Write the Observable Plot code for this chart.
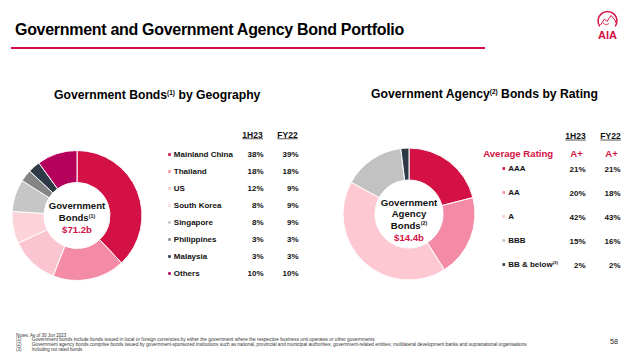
<!DOCTYPE html>
<html>
<head>
<meta charset="utf-8">
<script src="https://cdn.jsdelivr.net/npm/d3@7"></script>
<script src="https://cdn.jsdelivr.net/npm/@observablehq/plot@0.6"></script>
<style>
  body { margin: 0; background: #fff; }
  #page { position: relative; width: 640px; height: 359px; overflow: hidden;
          font-family: "Liberation Sans", Arial, sans-serif; color: #111; background: #fff; }
  .title { position: absolute; left: 15px; top: 21.5px; font-size: 16px; font-weight: bold;
           line-height: 16px; letter-spacing: -0.3px; white-space: nowrap; color: #000; }
  .rule { position: absolute; left: 11px; top: 47px; width: 474px; height: 2px; background: #d31145; }
  .heading { position: absolute; font-size: 12.2px; font-weight: bold; line-height: 12px; white-space: nowrap; color: #000; }
  .heading sup { font-size: 6.5px; vertical-align: 4px; line-height: 0; }
  .panel { position: absolute; top: 110px; }
  svg { display: block; }
</style>
</head>
<body>
<div id="page">
  <div class="title">Government and Government Agency Bond Portfolio</div>
  <div class="rule"></div>
  <svg style="position:absolute;left:594px;top:6px" width="30" height="36" viewBox="0 0 30 36">
    <path d="M5.7,20.4 A9.5,9.5 0 1,1 21.3,20.4" fill="none" stroke="#d31145" stroke-width="1.5"/>
    <path d="M6.5,19 L10.5,13 L13,15.5 L17,9.5 L21,14 L22,17" fill="none" stroke="#d31145" stroke-width="1"/>
    <path d="M9,17 L12,19 L15,17.5" fill="none" stroke="#d31145" stroke-width="0.8"/>
    <text x="13.5" y="32.5" text-anchor="middle" font-weight="bold" font-size="11" fill="#d31145"
          font-family="Liberation Sans, Arial, sans-serif">AIA</text>
  </svg>
  <div class="heading" style="left:54px;top:89px">Government Bonds<sup>(1)</sup> by Geography</div>
  <div class="heading" style="left:371px;top:88px">Government Agency<sup>(2)</sup> Bonds by Rating</div>
  <div class="panel" id="left" style="left:0"></div>
  <div class="panel" id="right" style="left:320px"></div>
  <svg style="position:absolute;left:0;top:325px" width="640" height="34"
       font-family="Liberation Sans, Arial, sans-serif">
    <g font-size="4.5" fill="#333">
      <text x="16" y="11.6">Notes: As of 30 Jun 2023</text>
      <text x="16" y="16.3">(1)</text>
      <text x="31.7" y="16.3" textLength="343" lengthAdjust="spacingAndGlyphs">Government bonds include bonds issued in local or foreign currencies by either the government where the respective business unit operates or other governments</text>
      <text x="16" y="20.9">(2)</text>
      <text x="31.7" y="20.9" textLength="495" lengthAdjust="spacingAndGlyphs">Government agency bonds comprise bonds issued by government-sponsored institutions such as national, provincial and municipal authorities; government-related entities; multilateral development banks and supranational organisations</text>
      <text x="16" y="25.6">(3)</text>
      <text x="31.7" y="25.6">Including not rated bonds</text>
    </g>
    <text x="614" y="18.6" font-size="7.2" text-anchor="middle" fill="#222">58</text>
  </svg>
</div>
<script>
// Government bonds by geography (% of total)
const regions = ["Mainland China", "Thailand", "US", "South Korea", "Singapore", "Philippines", "Malaysia", "Others"];
const regionShare1H23 = [38, 18, 12, 8, 8, 3, 3, 10];
const regionShareFY22 = [39, 18, 9, 9, 9, 3, 3, 10];
const regionColors = ["#d31145", "#f48ba6", "#fac4d0", "#fdd3da", "#c6c6c6", "#858585", "#2e3a46", "#b5005c"];

// Government agency bonds by rating (% of total)
const ratings = ["AAA", "AA", "A", "BBB", "BB & below(3)"];
const ratingShare1H23 = [21, 20, 42, 15, 2];
const ratingShareFY22 = [21, 18, 43, 16, 2];
const ratingColors = ["#d31145", "#f48ba6", "#fdc8d2", "#c2c2c2", "#2e3a46"];

const periods = ["1H23", "FY22"];
const averageRating = ["A+", "A+"];
const geoCenterText = ["Government", "Bonds(1)", "$71.2b"];
const agencyCenterText = ["Government", "Agency", "Bonds(2)", "$14.4b"];

const FONT = "Liberation Sans, Arial, sans-serif";
const RED = "#d31145";
const INK = "#111";

const geoRows = regions.map((name, i) => ({name, h1: regionShare1H23[i], fy: regionShareFY22[i]}));
const ratingRows = ratings.map((name, i) => ({name, h1: ratingShare1H23[i], fy: ratingShareFY22[i]}));
const cellsOf = rows => rows.flatMap(r => [
  {name: r.name, period: periods[0], value: r.h1},
  {name: r.name, period: periods[1], value: r.fy}
]);

// Donut of the 1H23 shares, coloured through the plot's colour scale.
function donut(rows, {cx, cy, inner, outer, lines, lineYs}) {
  return (index, scales) => {
    const color = scales.color;
    const arcs = d3.pie().sort(null).value(d => d.h1)(rows);
    const arc = d3.arc().innerRadius(inner).outerRadius(outer);
    const g = d3.create("svg:g").attr("transform", `translate(${cx},${cy})`);
    g.selectAll("path").data(arcs).join("path")
      .attr("d", arc)
      .attr("fill", d => color(d.data.name))
      .attr("stroke", "#fff")
      .attr("stroke-width", 1);
    lines.forEach((line, i) => {
      const last = i === lines.length - 1;
      g.append("text")
        .attr("text-anchor", "middle")
        .attr("y", lineYs[i])
        .attr("dy", "0.35em")
        .attr("font-weight", "bold")
        .attr("font-size", 9.6)
        .attr("fill", last ? RED : INK)
        .text(line);
    });
    return g.node();
  };
}

// Turn trailing "(n)" footnote markers into superscripts.
function superscripts(svg) {
  d3.select(svg).selectAll("text").each(function () {
    const m = this.textContent.match(/^(.*\S)(\(\d\))$/);
    if (!m) return;
    const t = d3.select(this);
    t.text(m[1]);
    t.append("tspan").attr("font-size", "55%").attr("dy", "-0.6em").text(m[2]);
  });
}

// Draw a thin underline beneath each column header (needs the svg in the DOM).
function underlineHeaders(svg) {
  d3.select(svg).selectAll("text")
    .filter(function () { return periods.includes(this.textContent); })
    .each(function () {
      const b = this.getBBox();
      const y = b.y + b.height - 0.8;
      const line = d3.select(this.parentNode).append("line")
        .attr("x1", b.x).attr("x2", b.x + b.width)
        .attr("y1", y).attr("y2", y)
        .attr("stroke", INK).attr("stroke-width", 0.7);
      const tr = this.getAttribute("transform");
      if (tr) line.attr("transform", tr);
    });
}

const baseStyle = {fontFamily: FONT, fontSize: "8px", overflow: "visible", background: "transparent", color: INK};

// Left panel: geography
const left = Plot.plot({
  width: 320, height: 190, margin: 0,
  style: baseStyle,
  x: {type: "point", domain: periods, range: [252, 287], padding: 0, axis: null},
  y: {type: "point", domain: regions, range: [43.3, 164.7], padding: 0, axis: null},
  color: {domain: regions, range: regionColors},
  marks: [
    donut(geoRows, {cx: 77, cy: 105.5, inner: 33, outer: 65, lines: geoCenterText, lineYs: [-9.8, 1.8, 13.8]}),
    Plot.text(periods, {x: d => d, frameAnchor: "top", dy: 21, text: d => d, fontWeight: "bold", fontSize: 8.5, fill: INK}),
    Plot.dot(geoRows, {y: "name", frameAnchor: "left", dx: 169, symbol: "square", r: 1.5, fill: "name"}),
    Plot.text(geoRows, {y: "name", frameAnchor: "left", dx: 173.3, text: "name", textAnchor: "start", fontWeight: "bold", fill: INK}),
    Plot.text(cellsOf(geoRows), {x: "period", y: "name", text: d => d.value + "%", textAnchor: "end", dx: 11, fontWeight: "bold", fill: INK})
  ]
});
superscripts(left);
document.getElementById("left").appendChild(left);
underlineHeaders(left);

// Right panel: rating
const right = Plot.plot({
  width: 320, height: 190, margin: 0,
  style: baseStyle,
  x: {type: "point", domain: periods, range: [255, 290], padding: 0, axis: null},
  y: {type: "point", domain: ratings, range: [58, 155], padding: 0, axis: null},
  color: {domain: ratings, range: ratingColors},
  marks: [
    donut(ratingRows, {cx: 89, cy: 104, inner: 34, outer: 66, lines: agencyCenterText, lineYs: [-11.7, -0.3, 11.3, 23.5]}),
    Plot.text(periods, {x: d => d, frameAnchor: "top", dy: 22.3, text: d => d, fontWeight: "bold", fontSize: 8.5, fill: INK}),
    Plot.text(["Average Rating"], {frameAnchor: "top-left", dx: 162.7, dy: 39.3, text: d => d, textAnchor: "start", fontSize: 9.6, fontWeight: "bold", fill: RED}),
    Plot.text(periods, {x: d => d, frameAnchor: "top", dy: 39.3, dx: 1, text: (d, i) => averageRating[i], fontSize: 9.6, fontWeight: "bold", fill: RED}),
    Plot.dot(ratingRows, {y: "name", frameAnchor: "left", dx: 183.3, dy: -1, symbol: "square", r: 1.5, fill: "name"}),
    Plot.text(ratingRows, {y: "name", frameAnchor: "left", dx: 187.7, dy: -1, text: "name", textAnchor: "start", fontWeight: "bold", fill: INK}),
    Plot.text(cellsOf(ratingRows), {x: "period", y: "name", text: d => d.value + "%", textAnchor: "end", dx: 10, fontWeight: "bold", fill: INK})
  ]
});
superscripts(right);
document.getElementById("right").appendChild(right);
underlineHeaders(right);
</script>
</body>
</html>
